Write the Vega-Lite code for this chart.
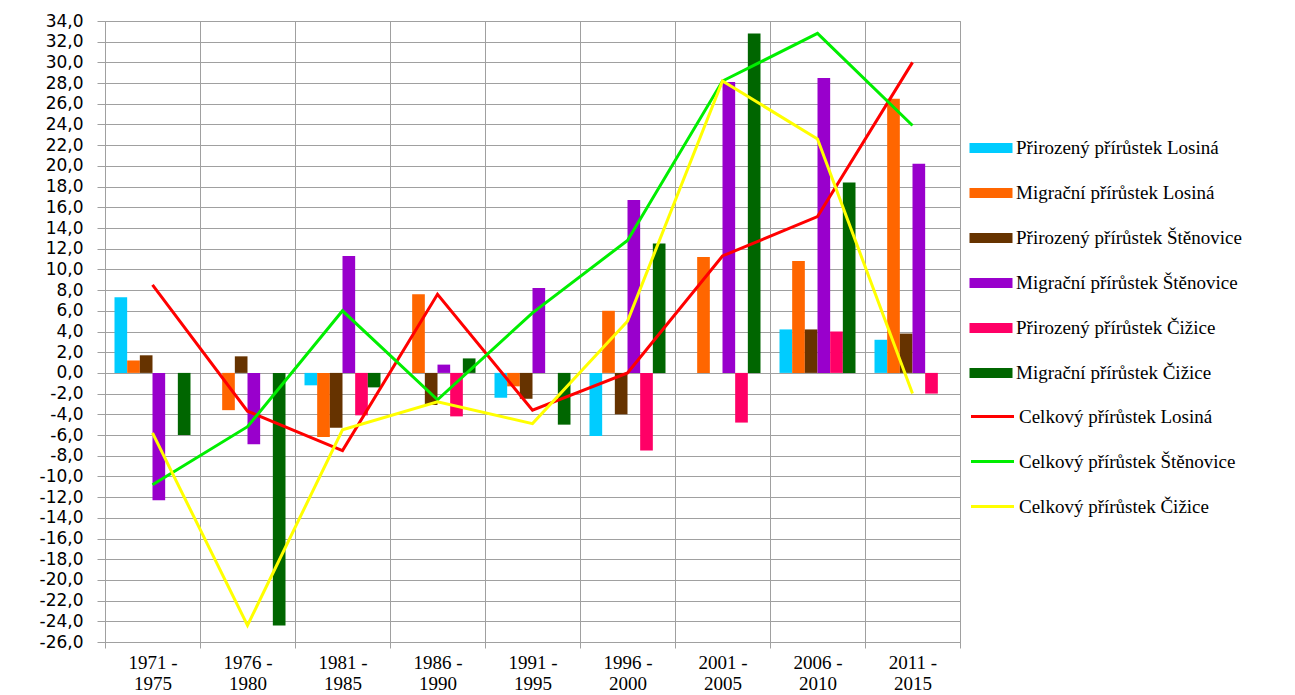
{
  "$schema": "https://vega.github.io/schema/vega-lite/v6.json",
  "autosize": "none",
  "width": 855,
  "height": 621,
  "padding": {"left": 105, "top": 21, "right": 335, "bottom": 53},
  "background": "white",
  "config": {
    "view": {"stroke": "#a0a0a0", "strokeWidth": 1},
    "axis": {"gridColor": "#a0a0a0", "gridOpacity": 1, "gridWidth": 1, "domainColor": "#a0a0a0", "tickColor": "#a0a0a0", "labelColor": "#000000"},
    "legend": {"padding": 0, "labelFont": "Liberation Serif", "labelFontSize": 19, "labelColor": "#000000", "labelLimit": 400, "labelOffset": 3}
  },
  "datasets": {
    "bars": [
      {"period": "1971 - 1975", "series": "Přirozený přírůstek Losiná", "value": 7.3},
      {"period": "1971 - 1975", "series": "Migrační přírůstek Losiná", "value": 1.2},
      {"period": "1971 - 1975", "series": "Přirozený přírůstek Štěnovice", "value": 1.7},
      {"period": "1971 - 1975", "series": "Migrační přírůstek Štěnovice", "value": -12.3},
      {"period": "1971 - 1975", "series": "Přirozený přírůstek Čižice", "value": 0},
      {"period": "1971 - 1975", "series": "Migrační přírůstek Čižice", "value": -6.0},
      {"period": "1976 - 1980", "series": "Přirozený přírůstek Losiná", "value": 0},
      {"period": "1976 - 1980", "series": "Migrační přírůstek Losiná", "value": -3.6},
      {"period": "1976 - 1980", "series": "Přirozený přírůstek Štěnovice", "value": 1.6},
      {"period": "1976 - 1980", "series": "Migrační přírůstek Štěnovice", "value": -6.9},
      {"period": "1976 - 1980", "series": "Přirozený přírůstek Čižice", "value": 0},
      {"period": "1976 - 1980", "series": "Migrační přírůstek Čižice", "value": -24.4},
      {"period": "1981 - 1985", "series": "Přirozený přírůstek Losiná", "value": -1.2},
      {"period": "1981 - 1985", "series": "Migrační přírůstek Losiná", "value": -6.2},
      {"period": "1981 - 1985", "series": "Přirozený přírůstek Štěnovice", "value": -5.3},
      {"period": "1981 - 1985", "series": "Migrační přírůstek Štěnovice", "value": 11.3},
      {"period": "1981 - 1985", "series": "Přirozený přírůstek Čižice", "value": -4.1},
      {"period": "1981 - 1985", "series": "Migrační přírůstek Čižice", "value": -1.4},
      {"period": "1986 - 1990", "series": "Přirozený přírůstek Losiná", "value": 0},
      {"period": "1986 - 1990", "series": "Migrační přírůstek Losiná", "value": 7.6},
      {"period": "1986 - 1990", "series": "Přirozený přírůstek Štěnovice", "value": -3.1},
      {"period": "1986 - 1990", "series": "Migrační přírůstek Štěnovice", "value": 0.8},
      {"period": "1986 - 1990", "series": "Přirozený přírůstek Čižice", "value": -4.2},
      {"period": "1986 - 1990", "series": "Migrační přírůstek Čižice", "value": 1.4},
      {"period": "1991 - 1995", "series": "Přirozený přírůstek Losiná", "value": -2.4},
      {"period": "1991 - 1995", "series": "Migrační přírůstek Losiná", "value": -1.3},
      {"period": "1991 - 1995", "series": "Přirozený přírůstek Štěnovice", "value": -2.5},
      {"period": "1991 - 1995", "series": "Migrační přírůstek Štěnovice", "value": 8.2},
      {"period": "1991 - 1995", "series": "Přirozený přírůstek Čižice", "value": 0},
      {"period": "1991 - 1995", "series": "Migrační přírůstek Čižice", "value": -5.0},
      {"period": "1996 - 2000", "series": "Přirozený přírůstek Losiná", "value": -6.1},
      {"period": "1996 - 2000", "series": "Migrační přírůstek Losiná", "value": 6.0},
      {"period": "1996 - 2000", "series": "Přirozený přírůstek Štěnovice", "value": -4.0},
      {"period": "1996 - 2000", "series": "Migrační přírůstek Štěnovice", "value": 16.7},
      {"period": "1996 - 2000", "series": "Přirozený přírůstek Čižice", "value": -7.5},
      {"period": "1996 - 2000", "series": "Migrační přírůstek Čižice", "value": 12.5},
      {"period": "2001 - 2005", "series": "Přirozený přírůstek Losiná", "value": 0},
      {"period": "2001 - 2005", "series": "Migrační přírůstek Losiná", "value": 11.2},
      {"period": "2001 - 2005", "series": "Přirozený přírůstek Štěnovice", "value": 0},
      {"period": "2001 - 2005", "series": "Migrační přírůstek Štěnovice", "value": 28.1},
      {"period": "2001 - 2005", "series": "Přirozený přírůstek Čižice", "value": -4.8},
      {"period": "2001 - 2005", "series": "Migrační přírůstek Čižice", "value": 32.8},
      {"period": "2006 - 2010", "series": "Přirozený přírůstek Losiná", "value": 4.2},
      {"period": "2006 - 2010", "series": "Migrační přírůstek Losiná", "value": 10.8},
      {"period": "2006 - 2010", "series": "Přirozený přírůstek Štěnovice", "value": 4.2},
      {"period": "2006 - 2010", "series": "Migrační přírůstek Štěnovice", "value": 28.5},
      {"period": "2006 - 2010", "series": "Přirozený přírůstek Čižice", "value": 4.0},
      {"period": "2006 - 2010", "series": "Migrační přírůstek Čižice", "value": 18.4},
      {"period": "2011 - 2015", "series": "Přirozený přírůstek Losiná", "value": 3.2},
      {"period": "2011 - 2015", "series": "Migrační přírůstek Losiná", "value": 26.5},
      {"period": "2011 - 2015", "series": "Přirozený přírůstek Štěnovice", "value": 3.8},
      {"period": "2011 - 2015", "series": "Migrační přírůstek Štěnovice", "value": 20.2},
      {"period": "2011 - 2015", "series": "Přirozený přírůstek Čižice", "value": -2.0},
      {"period": "2011 - 2015", "series": "Migrační přírůstek Čižice", "value": 0}
    ],
    "lines": [
      {"period": "1971 - 1975", "series": "Celkový přírůstek Losiná", "value": 8.5},
      {"period": "1976 - 1980", "series": "Celkový přírůstek Losiná", "value": -3.7},
      {"period": "1981 - 1985", "series": "Celkový přírůstek Losiná", "value": -7.5},
      {"period": "1986 - 1990", "series": "Celkový přírůstek Losiná", "value": 7.6},
      {"period": "1991 - 1995", "series": "Celkový přírůstek Losiná", "value": -3.6},
      {"period": "1996 - 2000", "series": "Celkový přírůstek Losiná", "value": 0.0},
      {"period": "2001 - 2005", "series": "Celkový přírůstek Losiná", "value": 11.3},
      {"period": "2006 - 2010", "series": "Celkový přírůstek Losiná", "value": 15.1},
      {"period": "2011 - 2015", "series": "Celkový přírůstek Losiná", "value": 30.0},
      {"period": "1971 - 1975", "series": "Celkový přírůstek Štěnovice", "value": -10.8},
      {"period": "1976 - 1980", "series": "Celkový přírůstek Štěnovice", "value": -5.2},
      {"period": "1981 - 1985", "series": "Celkový přírůstek Štěnovice", "value": 6.0},
      {"period": "1986 - 1990", "series": "Celkový přírůstek Štěnovice", "value": -2.6},
      {"period": "1991 - 1995", "series": "Celkový přírůstek Štěnovice", "value": 5.8},
      {"period": "1996 - 2000", "series": "Celkový přírůstek Štěnovice", "value": 12.8},
      {"period": "2001 - 2005", "series": "Celkový přírůstek Štěnovice", "value": 28.2},
      {"period": "2006 - 2010", "series": "Celkový přírůstek Štěnovice", "value": 32.8},
      {"period": "2011 - 2015", "series": "Celkový přírůstek Štěnovice", "value": 23.9},
      {"period": "1971 - 1975", "series": "Celkový přírůstek Čižice", "value": -5.8},
      {"period": "1976 - 1980", "series": "Celkový přírůstek Čižice", "value": -24.4},
      {"period": "1981 - 1985", "series": "Celkový přírůstek Čižice", "value": -5.5},
      {"period": "1986 - 1990", "series": "Celkový přírůstek Čižice", "value": -2.8},
      {"period": "1991 - 1995", "series": "Celkový přírůstek Čižice", "value": -4.9},
      {"period": "1996 - 2000", "series": "Celkový přírůstek Čižice", "value": 5.0},
      {"period": "2001 - 2005", "series": "Celkový přírůstek Čižice", "value": 28.2},
      {"period": "2006 - 2010", "series": "Celkový přírůstek Čižice", "value": 22.6},
      {"period": "2011 - 2015", "series": "Celkový přírůstek Čižice", "value": -2.0}
    ]
  },
  "encoding": {
    "x": {
      "field": "period", "type": "nominal", "sort": null,
      "scale": {"paddingInner": 0, "paddingOuter": 0},
      "axis": {
        "title": null, "labelAngle": 0, "bandPosition": 0, "grid": true,
        "tickBand": "extent",
        "labelFont": "Liberation Serif", "labelFontSize": 19, "labelLineHeight": 21,
        "labelPadding": 5, "tickSize": 6, "domain": true,
        "labelExpr": "datum.value ? [split(datum.value, ' - ')[0] + ' -', split(datum.value, ' - ')[1]] : ''"
      }
    },
    "y": {
      "field": "value", "type": "quantitative",
      "scale": {"domain": [-26, 34], "nice": false, "zero": false},
      "axis": {
        "title": null, "values": [-26,-24,-22,-20,-18,-16,-14,-12,-10,-8,-6,-4,-2,0,2,4,6,8,10,12,14,16,18,20,22,24,26,28,30,32,34],
        "grid": true, "tickSize": 8, "labelPadding": 14,
        "labelFont": "DejaVu Sans", "labelFontSize": 17,
        "labelExpr": "replace(replace(format(datum.value, '.1f'), '.', ','), '\u2212', '-')"
      }
    }
  },
  "layer": [
    {
      "data": {"name": "bars"},
      "mark": {"type": "bar"},
      "encoding": {
        "xOffset": {
          "field": "series", "type": "nominal",
          "scale": {"domain": ["Přirozený přírůstek Losiná", "Migrační přírůstek Losiná", "Přirozený přírůstek Štěnovice", "Migrační přírůstek Štěnovice", "Přirozený přírůstek Čižice", "Migrační přírůstek Čižice"], "paddingInner": 0, "paddingOuter": 0.75}
        },
        "color": {
          "field": "series", "type": "nominal",
          "scale": {
            "domain": ["Přirozený přírůstek Losiná", "Migrační přírůstek Losiná", "Přirozený přírůstek Štěnovice", "Migrační přírůstek Štěnovice", "Přirozený přírůstek Čižice", "Migrační přírůstek Čižice"],
            "range": ["#00ccff", "#ff6600", "#663300", "#9900cc", "#ff0066", "#006600"]
          },
          "legend": {
            "title": null, "orient": "none", "legendX": 864, "legendY": 105, "rowPadding": 13,
            "symbolType": "M-1,-0.23H1V0.23H-1Z", "symbolSize": 1850, "symbolStrokeWidth": 0
          }
        }
      }
    },
    {
      "data": {"name": "lines"},
      "mark": {"type": "line", "strokeWidth": 3},
      "encoding": {
        "stroke": {
          "field": "series", "type": "nominal",
          "scale": {
            "domain": ["Celkový přírůstek Losiná", "Celkový přírůstek Štěnovice", "Celkový přírůstek Čižice"],
            "range": ["#ff0000", "#00ee00", "#ffff00"]
          },
          "legend": {
            "title": null, "orient": "none", "legendX": 864, "legendY": 372, "rowPadding": 11,
            "symbolType": "stroke", "symbolSize": 1850, "symbolStrokeWidth": 3
          }
        }
      }
    }
  ]
}
